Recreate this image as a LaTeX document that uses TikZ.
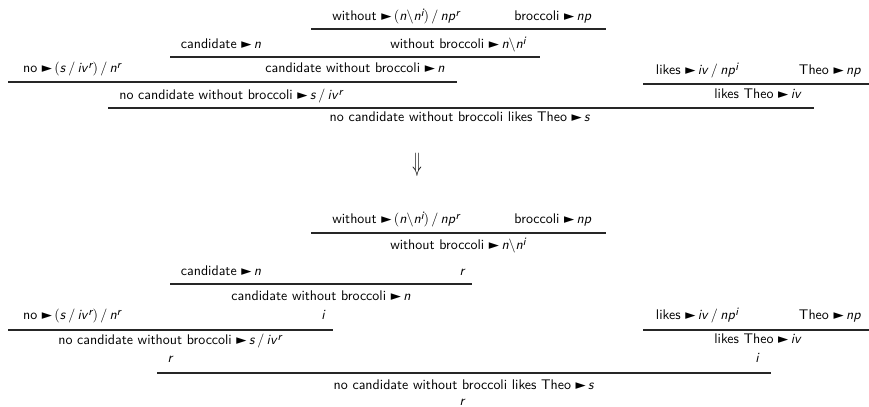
\documentclass[tikz,border=0pt]{standalone}
\usepackage{graphicx}
\usepackage{fontspec}
\newfontfamily\dvsans{DejaVu Sans}
% category notation
\newcommand\tri{ {\dvsans\scalebox{0.95}{\char"25BA}}\,}
\newcommand\cat[1]{\textsl{#1}}
\newcommand\supr[1]{\raisebox{0.75ex}{\footnotesize\slshape #1}}
\newcommand\bsl{\ensuremath{\backslash}}
\newcommand\dvd{\ensuremath{\,/\,}}
\newcommand\opar{\ensuremath{(}}
\newcommand\cpar{\ensuremath{)}}
\tikzset{
  lbl/.style={anchor=base, inner sep=0pt, font=\sffamily},
  tag/.style={anchor=base, inner sep=0pt, font=\sffamily\slshape},
  infrule/.style={line width=0.9pt, draw=black!85},
}
\begin{document}
\begin{tikzpicture}[x=0.716pt, y=-0.716pt]
\useasboundingbox (0,0) rectangle (869,407);

% ---------- first derivation ----------
\node[lbl] (ta1) at (396,21) {without\tri\opar\cat{n}\bsl\cat{n}\supr{i}\cpar\dvd\cat{np}\supr{r}};
\node[lbl] (ta2) at (553,21) {broccoli\tri\cat{np}};
\coordinate (tl1a) at (311,29); \coordinate (tl1b) at (606,29);
\draw[infrule] (tl1a) -- (tl1b);

\node[lbl] (tb1) at (221,49) {candidate\tri\cat{n}};
\node[lbl] (tb2) at (458,49) {without broccoli\tri\cat{n}\bsl\cat{n}\supr{i}};
\coordinate (tl2a) at (170,57); \coordinate (tl2b) at (540,57);
\draw[infrule] (tl2a) -- (tl2b);

\node[lbl] (tc1) at (72,73) {no\tri\opar\cat{s}\dvd\cat{iv}\supr{r}\cpar\dvd\cat{n}\supr{r}};
\node[lbl] (tc2) at (355,73) {candidate without broccoli\tri\cat{n}};
\coordinate (tl3a) at (8,82); \coordinate (tl3b) at (457,82);
\draw[infrule] (tl3a) -- (tl3b);

\node[lbl] (tr1) at (697,75) {likes\tri\cat{iv}\dvd\cat{np}\supr{i}};
\node[lbl] (tr2) at (830,75) {Theo\tri\cat{np}};
\coordinate (tl4a) at (643,84); \coordinate (tl4b) at (869,84);
\draw[infrule] (tl4a) -- (tl4b);

\node[lbl] (td1) at (231,100) {no candidate without broccoli\tri\cat{s}\dvd\cat{iv}\supr{r}};
\node[lbl] (td2) at (758,99) {likes Theo\tri\cat{iv}};
\coordinate (tl5a) at (108,108); \coordinate (tl5b) at (814,108);
\draw[infrule] (tl5a) -- (tl5b);

\node[lbl] (te) at (460,122) {no candidate without broccoli likes Theo\tri\cat{s}};

% ---------- rewriting step ----------
\node[inner sep=0pt] (step) at (417,165) {\scalebox{1.1}[1.9]{$\Downarrow$}};

% ---------- second derivation ----------
\node[lbl] (ba1) at (396,224) {without\tri\opar\cat{n}\bsl\cat{n}\supr{i}\cpar\dvd\cat{np}\supr{r}};
\node[lbl] (ba2) at (553,224) {broccoli\tri\cat{np}};
\coordinate (bl1a) at (311,233); \coordinate (bl1b) at (606,233);
\draw[infrule] (bl1a) -- (bl1b);

\node[lbl] (bb) at (458,250) {without broccoli\tri\cat{n}\bsl\cat{n}\supr{i}};

\node[lbl] (bc1) at (221,276) {candidate\tri\cat{n}};
\node[tag] (bcr) at (462,276) {r};
\coordinate (bl2a) at (170,284); \coordinate (bl2b) at (472,284);
\draw[infrule] (bl2a) -- (bl2b);

\node[lbl] (bc2) at (321,301) {candidate without broccoli\tri\cat{n}};

\node[lbl] (bd1) at (72,320) {no\tri\opar\cat{s}\dvd\cat{iv}\supr{r}\cpar\dvd\cat{n}\supr{r}};
\node[tag] (bdi) at (323,320) {i};
\coordinate (bl3a) at (8,330); \coordinate (bl3b) at (333,330);
\draw[infrule] (bl3a) -- (bl3b);

\node[lbl] (br1) at (697,320) {likes\tri\cat{iv}\dvd\cat{np}\supr{i}};
\node[lbl] (br2) at (830,320) {Theo\tri\cat{np}};
\coordinate (bl4a) at (643,330); \coordinate (bl4b) at (869,330);
\draw[infrule] (bl4a) -- (bl4b);

\node[lbl] (be1) at (170,345) {no candidate without broccoli\tri\cat{s}\dvd\cat{iv}\supr{r}};
\node[lbl] (be2) at (758,344) {likes Theo\tri\cat{iv}};

\node[tag] (bfr) at (170,363) {r};
\node[tag] (bfi) at (757,363) {i};
\coordinate (bl5a) at (157,373); \coordinate (bl5b) at (771,373);
\draw[infrule] (bl5a) -- (bl5b);

\node[lbl] (bg) at (464,390) {no candidate without broccoli likes Theo\tri\cat{s}};
\node[tag] (bgr) at (462,405) {r};
\end{tikzpicture}
\end{document}
